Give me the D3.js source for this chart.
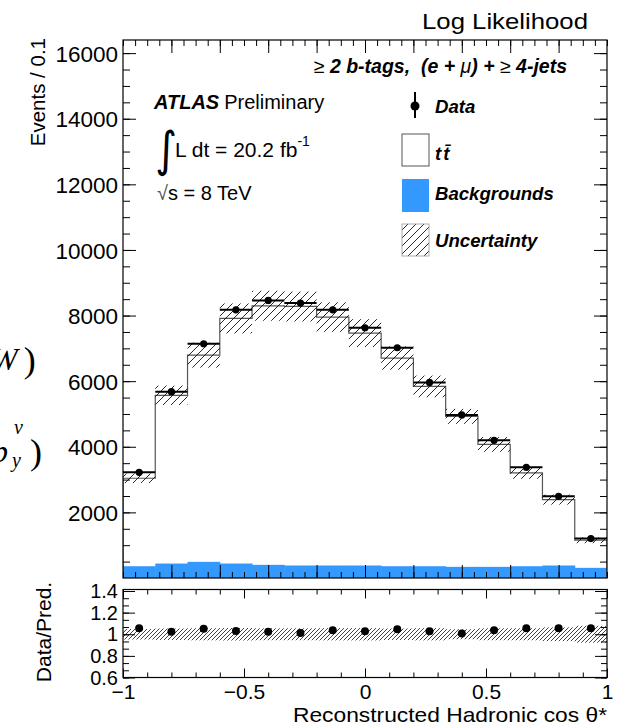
<!DOCTYPE html>
<html><head><meta charset="utf-8">
<script src="https://cdn.jsdelivr.net/npm/d3@7"></script>
<style>body{margin:0;background:#fff}svg{display:block}</style>
</head><body>
<script>
// ---------------- data ----------------
const binEdges = [-1, -0.8667, -0.7333, -0.6, -0.4667, -0.3333, -0.2, -0.0667, 0.0667, 0.2, 0.3333, 0.4667, 0.6, 0.7333, 0.8667, 1];
const dataVals = [3222, 5679, 7141, 8176, 8460, 8380, 8176, 7628, 7019, 5962, 4970, 4196, 3374, 2491, 1203];
const ttbarVals = [2681, 5129, 6302, 7471, 7897, 7896, 7573, 7085, 6346, 5481, 4587, 3734, 2844, 2009, 841];
const bkgVals = [359, 441, 493, 441, 401, 381, 381, 381, 359, 359, 340, 340, 359, 381, 310];
const uncVals = [147, 294, 380, 457, 457, 457, 450, 425, 355, 330, 228, 225, 178, 152, 90];
const ratioVals = [1.055, 1.024, 1.051, 1.030, 1.024, 1.012, 1.037, 1.028, 1.046, 1.028, 1.006, 1.037, 1.055, 1.055, 1.055];
const yMainTicks = [2000, 4000, 6000, 8000, 10000, 12000, 14000, 16000];
const yRatioTicks = [0.6, 0.8, 1, 1.2, 1.4];
const xLabelTicks = [-1, -0.5, 0, 0.5, 1];

const W = 621, H = 727;
const L = 123, R = 607, T = 40, B = 578, RT = 589.5, RB = 677.5;
const FONT = "'Liberation Sans', Arial, Helvetica, sans-serif";

const svg = d3.select("body").append("svg").attr("width", W).attr("height", H)
  .style("font-family", FONT);

const defs = svg.append("defs");
const pat = defs.append("pattern").attr("id", "hatch").attr("patternUnits", "userSpaceOnUse")
  .attr("width", 8).attr("height", 8);
pat.append("path").attr("d", "M0,8 L8,0 M-2,2 L2,-2 M6,10 L10,6").attr("stroke", "#111").attr("stroke-width", 0.9);
const pat2 = defs.append("pattern").attr("id", "hatch2").attr("patternUnits", "userSpaceOnUse")
  .attr("width", 4).attr("height", 4);
pat2.append("path").attr("d", "M0,4 L4,0 M-1,1 L1,-1 M3,5 L5,3").attr("stroke", "#111").attr("stroke-width", 0.8);
defs.append("clipPath").attr("id", "clipMain").append("rect").attr("x", L).attr("y", T).attr("width", R - L).attr("height", B - T);
defs.append("clipPath").attr("id", "clipRatio").append("rect").attr("x", L).attr("y", RT).attr("width", R - L).attr("height", RB - RT);

// ---------------- scales ----------------
const x = d3.scaleLinear().domain([-1, 1]).range([L, R]);
const y = d3.scaleLinear().domain([0, 16400]).range([B, T]);
const yr = d3.scaleLinear().domain([0.6, 1.4]).range([RB, RT + 1.5]);

const bins = dataVals.map((d, i) => ({
  x0: binEdges[i], x1: binEdges[i + 1], xc: (binEdges[i] + binEdges[i + 1]) / 2,
  data: d, bkg: bkgVals[i], tot: bkgVals[i] + ttbarVals[i], unc: uncVals[i], ratio: ratioVals[i]
}));

// ---------------- main panel ----------------
const gm = svg.append("g").attr("clip-path", "url(#clipMain)");
gm.selectAll("rect.bkg").data(bins).join("rect").attr("class", "bkg")
  .attr("x", d => x(d.x0)).attr("width", d => x(d.x1) - x(d.x0) + 0.5)
  .attr("y", d => y(d.bkg)).attr("height", d => y(0) - y(d.bkg))
  .attr("fill", "#3399ff");
let pts = [[x(-1), y(0)]];
bins.forEach(d => { pts.push([x(d.x0), y(d.tot)]); pts.push([x(d.x1), y(d.tot)]); });
pts.push([x(1), y(0)]);
gm.append("path").attr("d", d3.line()(pts)).attr("fill", "none").attr("stroke", "#555").attr("stroke-width", 1.2);
gm.selectAll("rect.unc").data(bins).join("rect").attr("class", "unc")
  .attr("x", d => x(d.x0)).attr("width", d => x(d.x1) - x(d.x0))
  .attr("y", d => y(d.tot + d.unc)).attr("height", d => y(d.tot - d.unc) - y(d.tot + d.unc))
  .attr("fill", "url(#hatch)");
gm.selectAll("line.dh").data(bins).join("line").attr("class", "dh")
  .attr("x1", d => x(d.x0)).attr("x2", d => x(d.x1))
  .attr("y1", d => y(d.data)).attr("y2", d => y(d.data))
  .attr("stroke", "#000").attr("stroke-width", 2);
gm.selectAll("line.dv").data(bins).join("line").attr("class", "dv")
  .attr("x1", d => x(d.xc)).attr("x2", d => x(d.xc))
  .attr("y1", d => y(d.data + Math.sqrt(d.data))).attr("y2", d => y(d.data - Math.sqrt(d.data)))
  .attr("stroke", "#000").attr("stroke-width", 2);
gm.selectAll("circle.dp").data(bins).join("circle").attr("class", "dp")
  .attr("cx", d => x(d.xc)).attr("cy", d => y(d.data)).attr("r", 3.6).attr("fill", "#000");

// ---------------- ratio panel ----------------
const gr = svg.append("g").attr("clip-path", "url(#clipRatio)");
gr.selectAll("rect.runc").data(bins).join("rect").attr("class", "runc")
  .attr("x", d => x(d.x0)).attr("width", d => x(d.x1) - x(d.x0) + 0.3)
  .attr("y", d => yr(1 + d.unc / d.tot)).attr("height", d => yr(1 - d.unc / d.tot) - yr(1 + d.unc / d.tot))
  .attr("fill", "url(#hatch2)");
gr.selectAll("circle.rp").data(bins).join("circle").attr("class", "rp")
  .attr("cx", d => x(d.xc)).attr("cy", d => yr(d.ratio)).attr("r", 4).attr("fill", "#000");

// ---------------- axes ----------------
function clean(g) { g.select(".domain").remove(); g.selectAll("line").attr("stroke", "#000").attr("stroke-width", 1); }
const minorMainY = d3.range(500, 16400, 500);
const minorMainX = d3.range(-1, 1.0001, 0.05);
const majorMainX = d3.range(-0.8, 0.9, 0.2);
svg.append("g").attr("transform", `translate(${L},0)`)
  .call(d3.axisLeft(y).tickValues(minorMainY).tickSize(-7).tickFormat("")).call(clean);
svg.append("g").attr("transform", `translate(${L},0)`)
  .call(d3.axisLeft(y).tickValues(yMainTicks).tickSize(-13).tickPadding(5).tickFormat(d3.format("d")))
  .call(clean)
  .call(g => g.selectAll("text").attr("font-size", 22.5).attr("fill", "#000").attr("dy", "0.36em"));
svg.append("g").attr("transform", `translate(${R},0)`)
  .call(d3.axisRight(y).tickValues(minorMainY).tickSize(-7).tickFormat("")).call(clean);
svg.append("g").attr("transform", `translate(${R},0)`)
  .call(d3.axisRight(y).tickValues(yMainTicks).tickSize(-13).tickFormat("")).call(clean);
[[B, d3.axisBottom], [T, d3.axisTop]].forEach(([yy, ax]) => {
  svg.append("g").attr("transform", `translate(0,${yy})`)
    .call(ax(x).tickValues(minorMainX).tickSize(-6).tickFormat("")).call(clean);
  svg.append("g").attr("transform", `translate(0,${yy})`)
    .call(ax(x).tickValues(majorMainX).tickSize(-13).tickFormat("")).call(clean);
});
const minorRatioY = d3.range(0, 13).map(i => 0.6 + i * 0.2 / 3);
svg.append("g").attr("transform", `translate(${L},0)`)
  .call(d3.axisLeft(yr).tickValues(minorRatioY).tickSize(-6).tickFormat("")).call(clean);
svg.append("g").attr("transform", `translate(${L},0)`)
  .call(d3.axisLeft(yr).tickValues(yRatioTicks).tickSize(-12).tickPadding(5).tickFormat(d => d3.format("")(+d.toFixed(1))))
  .call(clean)
  .call(g => g.selectAll("text").attr("font-size", 20).attr("fill", "#000").attr("dy", "0.33em"));
svg.append("g").attr("transform", `translate(${R},0)`)
  .call(d3.axisRight(yr).tickValues(minorRatioY).tickSize(-6).tickFormat("")).call(clean);
svg.append("g").attr("transform", `translate(${R},0)`)
  .call(d3.axisRight(yr).tickValues(yRatioTicks).tickSize(-12).tickFormat("")).call(clean);
const minorRatioX = d3.range(-1, 1.0001, 0.1);
[[RB, d3.axisBottom], [RT, d3.axisTop]].forEach(([yy, ax]) => {
  svg.append("g").attr("transform", `translate(0,${yy})`)
    .call(ax(x).tickValues(minorRatioX).tickSize(-5).tickFormat("")).call(clean);
  svg.append("g").attr("transform", `translate(0,${yy})`)
    .call(ax(x).tickValues(xLabelTicks).tickSize(-9).tickFormat("")).call(clean);
});
svg.append("g").attr("transform", `translate(0,${RB})`)
  .call(d3.axisBottom(x).tickValues(xLabelTicks).tickSize(0).tickPadding(7)
    .tickFormat(d => (d < 0 ? "\u2212" : "") + d3.format("")(Math.abs(d))))
  .call(g => g.select(".domain").remove())
  .call(g => g.selectAll("text").attr("font-size", 21).attr("fill", "#000").attr("dy", "0.71em"));

svg.append("rect").attr("x", L).attr("y", T).attr("width", R - L).attr("height", B - T)
  .attr("fill", "none").attr("stroke", "#000").attr("stroke-width", 1.2);
svg.append("rect").attr("x", L).attr("y", RT).attr("width", R - L).attr("height", RB - RT)
  .attr("fill", "none").attr("stroke", "#000").attr("stroke-width", 1.2);

// ---------------- titles ----------------
svg.append("text").attr("transform", "translate(45,38) rotate(-90)").attr("text-anchor", "end")
  .attr("font-size", 20.5).text("Events / 0.1");
svg.append("text").attr("transform", "translate(51,632) rotate(-90)").attr("text-anchor", "middle")
  .attr("font-size", 21).text("Data/Pred.");
svg.append("text").attr("x", R).attr("y", 722).attr("text-anchor", "end")
  .attr("font-size", 21).attr("textLength", 314).attr("lengthAdjust", "spacingAndGlyphs")
  .text("Reconstructed Hadronic cos \u03b8*");
svg.append("text").attr("x", 588).attr("y", 29).attr("text-anchor", "end")
  .attr("font-size", 22.5).attr("textLength", 166).attr("lengthAdjust", "spacingAndGlyphs").text("Log Likelihood");

const sel = svg.append("text").attr("x", 567).attr("y", 73).attr("text-anchor", "end").attr("font-size", 19.5)
  .attr("font-style", "italic").attr("font-weight", "bold");
sel.append("tspan").attr("font-weight", "normal").attr("font-style", "normal").text("\u2265");
sel.append("tspan").text(" 2 b-tags,\u00a0 (e + ");
sel.append("tspan").attr("font-weight", "normal").text("\u03bc");
sel.append("tspan").text(") + ");
sel.append("tspan").attr("font-weight", "normal").attr("font-style", "normal").text("\u2265");
sel.append("tspan").text(" 4-jets");

const at = svg.append("text").attr("x", 154).attr("y", 109).attr("font-size", 20);
at.append("tspan").attr("font-weight", "bold").attr("font-style", "italic").text("ATLAS");
at.append("tspan").attr("dx", 5).text("Preliminary");
svg.append("text").attr("transform", "translate(155,166) scale(1,1.15)").attr("font-size", 42)
  .attr("font-family", "'DejaVu Sans', sans-serif").text("\u222b");
const lum = svg.append("text").attr("x", 175).attr("y", 157).attr("font-size", 21);
lum.append("tspan").text("L dt = 20.2 fb");
lum.append("tspan").attr("dy", -11).attr("font-size", 14).text("-1");
const sq = svg.append("text").attr("x", 157).attr("y", 200).attr("font-size", 20);
sq.append("tspan").attr("fill", "#555").text("\u221a");
sq.append("tspan").text("s = 8 TeV");

// ---------------- legend ----------------
const lg = svg.append("g");
lg.append("line").attr("x1", 415).attr("x2", 415).attr("y1", 92).attr("y2", 118).attr("stroke", "#000").attr("stroke-width", 2);
lg.append("circle").attr("cx", 415).attr("cy", 106).attr("r", 4.5).attr("fill", "#000");
lg.append("rect").attr("x", 402).attr("y", 134).attr("width", 27).attr("height", 32).attr("fill", "#fff").attr("stroke", "#555").attr("stroke-width", 1);
lg.append("rect").attr("x", 402).attr("y", 179).attr("width", 27).attr("height", 33).attr("fill", "#3399ff");
lg.append("rect").attr("x", 402).attr("y", 224).attr("width", 27).attr("height", 32).attr("fill", "url(#hatch)").attr("stroke", "#999").attr("stroke-width", 0.8);
const legTxt = [["Data", 112.5], ["Backgrounds", 200], ["Uncertainty", 246.5]];
legTxt.forEach(([t, yy]) => lg.append("text").attr("x", 435).attr("y", yy).attr("font-size", 18.6)
  .attr("font-weight", "bold").attr("font-style", "italic").text(t));
const tt = lg.append("text").attr("x", 435).attr("y", 159.5).attr("font-size", 18.6).attr("font-weight", "bold").attr("font-style", "italic");
tt.append("tspan").text("t");
tt.append("tspan").attr("dx", 2).text("t\u0304");

// ---------------- clipped fragments at left edge ----------------
const f1 = svg.append("text").attr("x", -9).attr("y", 370).attr("font-family", "'Liberation Serif', serif").attr("font-size", 32);
f1.append("tspan").attr("font-style", "italic").text("W");
f1.append("tspan").attr("dx", 6).attr("font-size", 36).attr("dy", 2).text(")");
svg.append("text").attr("x", -8).attr("y", 462).attr("font-family", "'Liberation Serif', serif").attr("font-size", 32).attr("font-style", "italic").text("p");
svg.append("text").attr("x", 14).attr("y", 434).attr("font-family", "'Liberation Serif', serif").attr("font-size", 20).attr("font-style", "italic").text("\u03bd");
svg.append("text").attr("x", 12).attr("y", 467).attr("font-family", "'Liberation Serif', serif").attr("font-size", 20).attr("font-style", "italic").text("y");
svg.append("text").attr("x", 30).attr("y", 464).attr("font-family", "'Liberation Serif', serif").attr("font-size", 36).text(")");
</script>
</body></html>
